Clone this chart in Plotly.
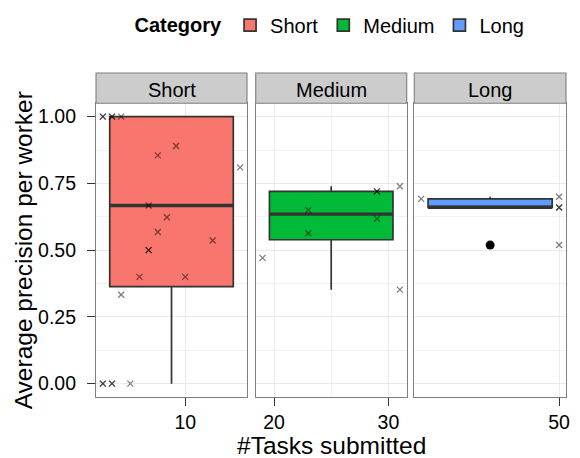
import plotly.graph_objects as go

# ---- data ----
categories = ["Short", "Medium", "Long"]
fill_colors = ["#F8766D", "#00BA38", "#619CFF"]

short_tasks = [1, 1, 2, 2, 3, 9, 7, 16, 6, 8, 7, 13, 6, 6, 5, 10, 3, 1, 1, 2, 2, 4]
short_prec = [1.0, 1.0, 1.0, 1.0, 1.0, 0.89, 0.855, 0.81, 0.667, 0.623, 0.568, 0.536,
              0.5, 0.5, 0.4, 0.4, 0.333, 0.0, 0.0, 0.0, 0.0, 0.0]

medium_tasks = [31, 29, 29, 23, 29, 23, 19, 31]
medium_prec = [0.739, 0.72, 0.72, 0.65, 0.618, 0.563, 0.471, 0.352]

long_tasks = [42, 50, 50, 50, 50]
long_prec = [0.692, 0.70, 0.66, 0.66, 0.519]

# box statistics
box_q1 = [0.363, 0.539, 0.66]
box_median = [0.667, 0.635, 0.66]
box_q3 = [1.0, 0.72, 0.692]
box_lower = [0.0, 0.352, 0.66]
box_upper = [1.0, 0.739, 0.70]
outlier_prec = [None, None, 0.519]

x_tickvals = [[10], [20, 30], [50]]
x_minor = [[], [25], []]
y_tickvals = [0.0, 0.25, 0.5, 0.75, 1.0]
y_ticktext = ["0.00", "0.25", "0.50", "0.75", "1.00"]

tasks = [short_tasks, medium_tasks, long_tasks]
precs = [short_prec, medium_prec, long_prec]

FONT = "Liberation Sans, Arial, Helvetica, sans-serif"
domains = [[0.0, 0.3213], [0.3398, 0.6611], [0.6772, 1.0]]
ytop = 0.9065

fig = go.Figure()

for i, cat in enumerate(categories):
    xa = "x" if i == 0 else f"x{i+1}"
    ya = "y" if i == 0 else f"y{i+1}"
    xs = tasks[i]
    lo, hi = min(xs), max(xs)
    center = (lo + hi) / 2
    width = 0.9 * (hi - lo)
    fig.add_trace(go.Box(
        x=[center], q1=[box_q1[i]], median=[box_median[i]], q3=[box_q3[i]],
        lowerfence=[box_lower[i]], upperfence=[box_upper[i]],
        width=width, whiskerwidth=0, boxpoints=False,
        fillcolor=fill_colors[i], line=dict(color="#333333", width=1.7),
        name=cat, legendgroup=cat, showlegend=True,
        xaxis=xa, yaxis=ya, hoverinfo="skip",
    ))
    # thick median line (ggplot fatten)
    fig.add_trace(go.Scatter(
        x=[center - width / 2, center + width / 2],
        y=[box_median[i], box_median[i]],
        mode="lines", line=dict(color="#333333", width=3.4),
        showlegend=False, xaxis=xa, yaxis=ya, hoverinfo="skip",
    ))
    if outlier_prec[i] is not None:
        fig.add_trace(go.Scatter(
            x=[center], y=[outlier_prec[i]], mode="markers",
            marker=dict(symbol="circle", size=9, color="black"),
            showlegend=False, xaxis=xa, yaxis=ya, hoverinfo="skip",
        ))
    fig.add_trace(go.Scatter(
        x=xs, y=precs[i], mode="markers",
        marker=dict(symbol="x-thin", size=6,
                    line=dict(color="rgba(0,0,0,0.5)", width=1.3)),
        showlegend=False, xaxis=xa, yaxis=ya, hoverinfo="skip",
    ))

    span = hi - lo
    xaxis_cfg = dict(
        domain=domains[i], anchor=ya, automargin=False,
        range=[lo - 0.05 * span, hi + 0.05 * span],
        tickmode="array", tickvals=x_tickvals[i],
        ticks="outside", ticklen=8, tickcolor="#333333", tickwidth=1.2,
        ticklabelstandoff=0,
        tickfont=dict(size=19.5, color="black", family=FONT),
        showgrid=True, gridcolor="#EBEBEB", gridwidth=1,
        showline=True, mirror=True, linecolor="#7F7F7F", linewidth=1.1,
        zeroline=False,
        minor=dict(tickmode="array", tickvals=x_minor[i], showgrid=True,
                   gridcolor="#F2F2F2", ticks=""),
    )
    yaxis_cfg = dict(
        domain=[0, ytop], anchor=xa, range=[-0.05, 1.05], automargin=False,
        tickmode="array", tickvals=y_tickvals, ticktext=y_ticktext,
        showticklabels=(i == 0),
        ticks="outside" if i == 0 else "", ticklen=8, tickcolor="#333333", tickwidth=1.2,
        ticklabelstandoff=7,
        tickfont=dict(size=19.5, color="black", family=FONT),
        showgrid=True, gridcolor="#EBEBEB", gridwidth=1,
        showline=True, mirror=True, linecolor="#7F7F7F", linewidth=1.1,
        zeroline=False,
        minor=dict(tick0=0.125, dtick=0.25, showgrid=True, gridcolor="#F2F2F2", ticks=""),
    )
    key = "" if i == 0 else str(i + 1)
    fig.update_layout(**{f"xaxis{key}": xaxis_cfg, f"yaxis{key}": yaxis_cfg})

    # strip
    fig.add_shape(type="rect", xref="paper", yref="paper",
                  x0=domains[i][0], x1=domains[i][1], y0=ytop, y1=1.0,
                  fillcolor="#CCCCCC", line=dict(color="#7F7F7F", width=1.1), layer="above")
    fig.add_annotation(text=cat, xref="paper", yref="paper",
                       x=(domains[i][0] + domains[i][1]) / 2, y=0.948,
                       xanchor="center", yanchor="middle", showarrow=False,
                       font=dict(size=20, color="black", family=FONT))

# axis titles
fig.add_annotation(text="#Tasks submitted", xref="paper", yref="paper",
                   x=0.5, y=-0.151, xanchor="center", yanchor="middle", showarrow=False,
                   font=dict(size=24.5, color="black", family=FONT))
fig.add_annotation(text="Average precision per worker", xref="paper", yref="paper",
                   x=-0.155, y=ytop / 2, xanchor="center", yanchor="middle", showarrow=False,
                   textangle=-90, font=dict(size=24.5, color="black", family=FONT))

# the page adds an 8px body margin, so the figure is laid out 8px up/left
fig.update_layout(
    width=580, height=458,
    margin=dict(l=88, r=22, t=65, b=69, autoexpand=False),
    plot_bgcolor="white", paper_bgcolor="white",
    font=dict(family=FONT, color="black"),
    legend=dict(orientation="h", x=0.5, xanchor="center", y=1.148, yanchor="middle",
                title=dict(text="<b>Category</b>", side="left", font=dict(size=20)),
                font=dict(size=20, family=FONT), itemwidth=30,
                bgcolor="rgba(0,0,0,0)"),
)

fig.write_html("out.html")
